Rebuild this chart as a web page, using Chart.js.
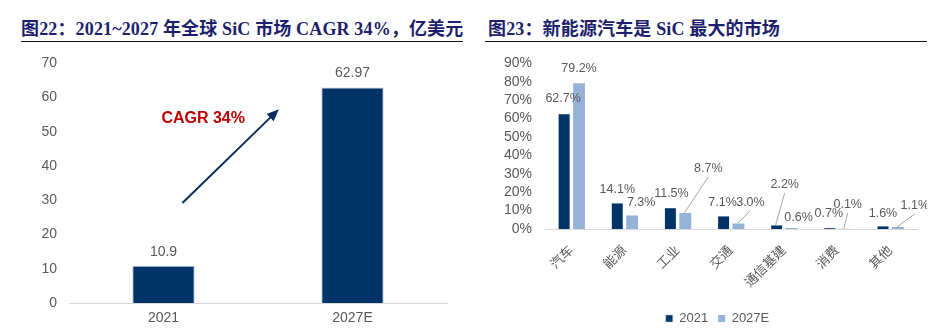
<!DOCTYPE html>
<html>
<head>
<meta charset="utf-8">
<script src="https://cdn.jsdelivr.net/npm/chart.js@4.4.1/dist/chart.umd.min.js"></script>
<style>
  html, body { margin: 0; padding: 0; background: #fff; }
  body { width: 940px; height: 329px; position: relative; overflow: hidden; }
  .title {
    position: absolute; top: 17px; width: 442px; height: 24px; line-height: 24px;
    font-family: 'Liberation Serif', 'Noto Sans CJK SC', serif; font-weight: bold;
    font-size: 18px; letter-spacing: 0.15px; color: #1d1f6e; border-bottom: 1.5px solid #111; white-space: nowrap;
  }
  #title22 { left: 21px; }
  #title23 { left: 485px; padding-left: 3px; width: 439px; }
  canvas { position: absolute; }
  #sizeChart { left: 0; top: 43px; }
  #shareChart { left: 470px; top: 42px; }
</style>
</head>
<body>
<div class="title" id="title22">图22：2021~2027 年全球 SiC 市场 CAGR 34%，亿美元</div>
<div class="title" id="title23">图23：新能源汽车是 SiC 最大的市场</div>
<canvas id="sizeChart" width="470" height="286"></canvas>
<canvas id="shareChart" width="470" height="287"></canvas>
<script>
// Global SiC market size, 100M USD
const sizeYears = ['2021', '2027E'];
const sizeValues = [10.9, 62.97];
const sizeTicks = [0, 10, 20, 30, 40, 50, 60, 70];

// SiC demand split by application, %
const segments = ['汽车', '能源', '工业', '交通', '通信基建', '消费', '其他'];
const share2021 = [62.7, 14.1, 11.5, 7.1, 2.2, 0.7, 1.6];
const share2027 = [79.2, 7.3, 8.7, 3.0, 0.6, 0.1, 1.1];
const shareTicks = [0, 10, 20, 30, 40, 50, 60, 70, 80, 90];

const NAVY = '#003366';
const LIGHT = '#95b3d7';
const GREY = '#595959';
const SANS = "'Liberation Sans', 'Noto Sans CJK SC', sans-serif";

Chart.defaults.font.family = SANS;
Chart.defaults.color = GREY;

// value labels for the left chart, just above each bar
const sizeLabels = {
  id: 'sizeLabels',
  afterDatasetsDraw(chart) {
    const { ctx } = chart;
    const meta = chart.getDatasetMeta(0);
    ctx.save();
    ctx.font = '14px ' + SANS;
    ctx.fillStyle = GREY;
    ctx.textAlign = 'center';
    ctx.textBaseline = 'middle';
    meta.data.forEach((bar, i) => {
      ctx.fillText(String(sizeValues[i]), bar.x, bar.y - 14);
    });
    ctx.restore();
  }
};

// growth arrow + CAGR text, placed in data space
const cagrArrow = {
  id: 'cagrArrow',
  afterDatasetsDraw(chart) {
    const { ctx, scales: { x, y } } = chart;
    const x0 = x.getPixelForValue(0.1), y0 = y.getPixelForValue(29.2);
    const x1 = x.getPixelForValue(0.61), y1 = y.getPixelForValue(56.6);
    const ang = Math.atan2(y1 - y0, x1 - x0);
    ctx.save();
    ctx.strokeStyle = '#0b2d5c';
    ctx.fillStyle = '#0b2d5c';
    ctx.lineWidth = 2;
    ctx.beginPath();
    ctx.moveTo(x0, y0);
    ctx.lineTo(x1 - 8 * Math.cos(ang), y1 - 8 * Math.sin(ang));
    ctx.stroke();
    ctx.beginPath();
    ctx.moveTo(x1, y1);
    ctx.lineTo(x1 - 12 * Math.cos(ang) + 5 * Math.sin(ang), y1 - 12 * Math.sin(ang) - 5 * Math.cos(ang));
    ctx.lineTo(x1 - 12 * Math.cos(ang) - 5 * Math.sin(ang), y1 - 12 * Math.sin(ang) + 5 * Math.cos(ang));
    ctx.closePath();
    ctx.fill();
    ctx.font = "bold 16px 'Liberation Sans', sans-serif";
    ctx.fillStyle = '#c00000';
    ctx.textAlign = 'center';
    ctx.textBaseline = 'middle';
    ctx.fillText('CAGR 34%', x.getPixelForValue(0.21), y.getPixelForValue(53.9));
    ctx.restore();
  }
};

new Chart(document.getElementById('sizeChart').getContext('2d'), {
  type: 'bar',
  data: {
    labels: sizeYears,
    datasets: [{
      data: sizeValues,
      backgroundColor: NAVY,
      borderColor: '#b9c6d8',
      borderWidth: 1,
      barPercentage: 0.66,
      categoryPercentage: 0.5
    }]
  },
  options: {
    responsive: false,
    animation: false,
    devicePixelRatio: 1,
    layout: { padding: { top: 7, right: 23, bottom: 0, left: 0 } },
    plugins: { legend: { display: false }, tooltip: { enabled: false } },
    scales: {
      x: {
        grid: { display: false, drawTicks: false },
        border: { display: true, color: '#d9d9d9' },
        ticks: { font: { size: 14 }, color: GREY, padding: 7 },
        afterFit(scale) { scale.height = 26; }
      },
      y: {
        min: 0,
        max: 70,
        grid: { display: false, drawTicks: false },
        border: { display: false },
        afterBuildTicks(scale) { scale.ticks = sizeTicks.map(v => ({ value: v })); },
        ticks: { font: { size: 14 }, color: GREY, padding: 12, autoSkip: false },
        afterFit(scale) { scale.width = 69; }
      }
    }
  },
  plugins: [sizeLabels, cagrArrow]
});

// label placement relative to each bar top: [dx, dy, leader line]
const nudge2021 = [[-1, -15], [0, -14], [1, -14], [-1, -13], [8, -40, true], [-1, -14], [0, -13]];
const nudge2027 = [[0, -15], [9, -13], [23, -44, true], [12, -21, true], [7, -10], [3, -24, true], [17, -21, true]];

const shareLabels = {
  id: 'shareLabels',
  afterDatasetsDraw(chart) {
    const { ctx } = chart;
    const sets = [[share2021, nudge2021], [share2027, nudge2027]];
    ctx.save();
    ctx.beginPath();
    ctx.rect(0, 0, 457, chart.height);
    ctx.clip();
    ctx.font = '12.5px ' + SANS;
    ctx.textAlign = 'center';
    ctx.textBaseline = 'middle';
    sets.forEach(([values, nudge], d) => {
      chart.getDatasetMeta(d).data.forEach((bar, i) => {
        const [dx, dy, leader] = nudge[i];
        const lx = bar.x + dx, ly = bar.y + dy;
        if (leader) {
          ctx.strokeStyle = '#a6a6a6';
          ctx.lineWidth = 1;
          ctx.beginPath();
          ctx.moveTo(bar.x - 1, bar.y);
          ctx.lineTo(lx, ly + 8);
          ctx.stroke();
        }
        ctx.fillStyle = GREY;
        ctx.fillText(values[i].toFixed(1) + '%', lx, ly);
      });
    });
    ctx.restore();
  }
};

// the legend sits centred under the plot area rather than the canvas
const legendShift = {
  id: 'legendShift',
  afterLayout(chart) {
    const lg = chart.legend;
    lg.left += 24; lg.right += 24;
    lg.top += 6; lg.bottom += 6;
  }
};

new Chart(document.getElementById('shareChart').getContext('2d'), {
  type: 'bar',
  data: {
    labels: segments,
    datasets: [{
      label: '2021',
      data: share2021,
      backgroundColor: NAVY,
      borderColor: '#b9c6d8',
      borderWidth: 0.5,
      barPercentage: 0.8,
      categoryPercentage: 0.56
    }, {
      label: '2027E',
      data: share2027,
      backgroundColor: LIGHT,
      barPercentage: 0.8,
      categoryPercentage: 0.56
    }]
  },
  options: {
    responsive: false,
    animation: false,
    devicePixelRatio: 1,
    layout: { padding: { top: 7, right: 23, bottom: 0, left: 0 } },
    plugins: {
      tooltip: { enabled: false },
      legend: {
        position: 'bottom',
        labels: { boxWidth: 7, boxHeight: 7, padding: 10, color: GREY, font: { size: 13 } }
      }
    },
    scales: {
      x: {
        grid: { display: false, drawTicks: false },
        border: { display: true, color: '#d9d9d9' },
        ticks: { font: { size: 13 }, color: GREY, padding: 14, minRotation: 45, maxRotation: 45, autoSkip: false },
        afterFit(scale) { scale.height = 67; }
      },
      y: {
        min: 0,
        max: 90,
        grid: { display: false, drawTicks: false },
        border: { display: false },
        afterBuildTicks(scale) { scale.ticks = shareTicks.map(v => ({ value: v })); },
        ticks: { font: { size: 14 }, color: GREY, padding: 13, autoSkip: false, callback: v => v + '%' },
        afterFit(scale) { scale.width = 75; }
      }
    }
  },
  plugins: [shareLabels, legendShift]
});
</script>
</body>
</html>
